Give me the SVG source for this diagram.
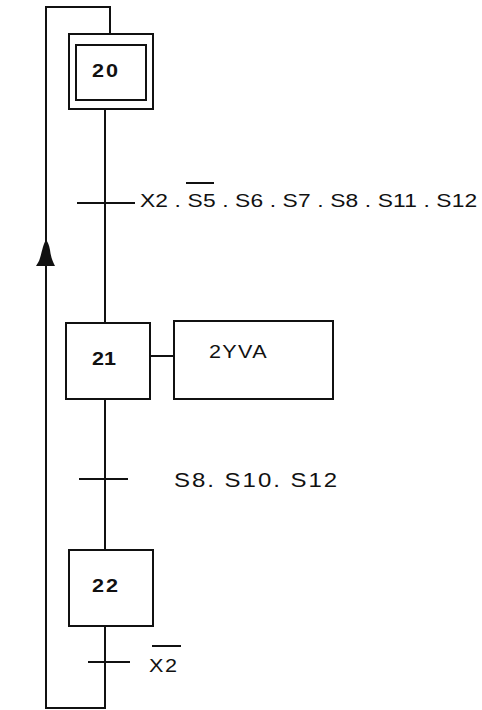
<svg xmlns="http://www.w3.org/2000/svg" width="482" height="710" viewBox="0 0 482 710">
<style>
.ln{fill:none;stroke:#111;stroke-width:2}
.bx{fill:#fff;stroke:#111;stroke-width:2}
.lbl{font-family:"Liberation Sans",Arial,sans-serif;fill:#111}
.num{font-weight:bold;font-size:18px}
.tr{font-size:19px}
</style>
<rect width="482" height="710" fill="#fff"/>
<g id="connectors">
<polyline class="ln" points="110,34 110,7 46,7 46,708 105,708 105,626"/>
<line class="ln" x1="105" y1="109" x2="105" y2="323"/>
<line class="ln" x1="105" y1="399" x2="105" y2="550"/>
<line class="ln" x1="150" y1="356" x2="174" y2="356"/>
<path d="M46,240 C43,244 42,252 40,258 C39,262 37,264 36,266 L55,266 C53,262 51,258 50,250 C49,245 48,242 46,240 Z" fill="#111"/>
<line class="ln" x1="77" y1="203" x2="135" y2="203"/>
<line class="ln" x1="79" y1="479" x2="128" y2="479"/>
<line class="ln" x1="88" y1="662" x2="130" y2="662"/>
</g>
<g id="step20">
<rect class="bx" x="69" y="34" width="84" height="75"/>
<rect class="bx" x="76" y="45" width="70" height="55"/>
<text class="lbl num" transform="translate(92,77) scale(1.2,1)" textLength="21.7" lengthAdjust="spacing">20</text>
</g>
<g id="t1">
<text class="lbl tr" transform="translate(140,207) scale(1.2,1)" textLength="281" lengthAdjust="spacing">X2 . S5 . S6 . S7 . S8 . S11 . S12</text>
<line class="ln" x1="186" y1="183" x2="214" y2="183" stroke-width="1.6"/>
</g>
<g id="step21">
<rect class="bx" x="66" y="323" width="84" height="76"/>
<text class="lbl num" transform="translate(92,365) scale(1.2,1)" textLength="20" lengthAdjust="spacing">21</text>
</g>
<g id="action21">
<rect class="bx" x="174" y="321" width="159" height="78"/>
<text class="lbl" transform="translate(209,358) scale(1.2,1)" font-size="18" textLength="48" lengthAdjust="spacing">2YVA</text>
</g>
<g id="t2">
<text class="lbl" transform="translate(174,487) scale(1.2,1)" font-size="20" textLength="136" lengthAdjust="spacing">S8. S10. S12</text>
</g>
<g id="step22">
<rect class="bx" x="69" y="550" width="84" height="76"/>
<text class="lbl num" transform="translate(92,592) scale(1.2,1)" textLength="21.7" lengthAdjust="spacing">22</text>
</g>
<g id="t3">
<text class="lbl" transform="translate(149,672) scale(1.2,1)" font-size="18" textLength="23.3" lengthAdjust="spacing">X2</text>
<line class="ln" x1="152" y1="646" x2="181" y2="646" stroke-width="1.6"/>
</g>
</svg>
